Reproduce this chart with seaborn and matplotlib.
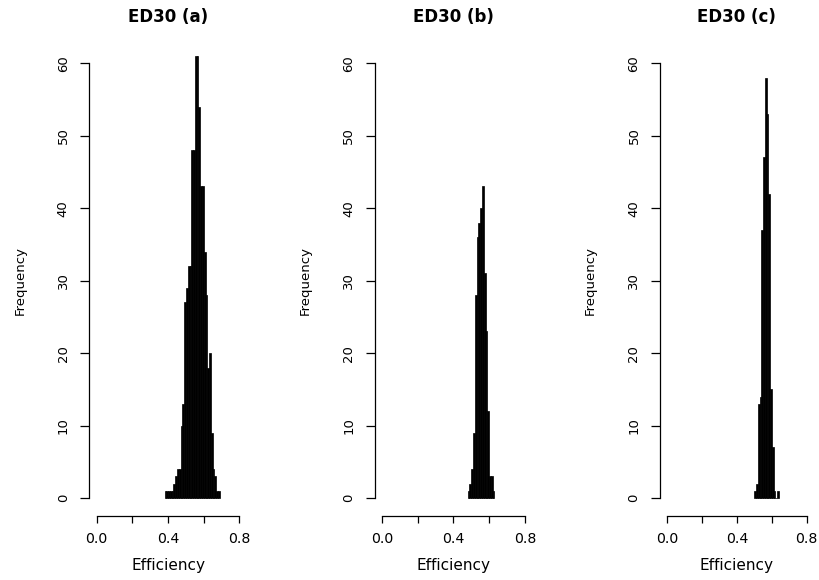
import numpy as np
import pandas as pd
import matplotlib
matplotlib.use("Agg")
import matplotlib.pyplot as plt
import seaborn as sns

# ---------------- data ----------------
bin_width = 0.01

titles = ["ED30 (a)", "ED30 (b)", "ED30 (c)"]

start_a = 0.38
counts_a = [1, 1, 1, 1, 1, 2, 3, 4, 4, 10, 13, 27, 29, 32, 32, 48, 48,
            61, 61, 54, 43, 43, 34, 28, 18, 20, 9, 4, 3, 1, 1]

start_b = 0.48
counts_b = [1, 2, 4, 9, 28, 36, 38, 40, 43, 31, 23, 12, 3, 3, 1]

start_c = 0.50
counts_c = [1, 2, 13, 14, 37, 47, 58, 53, 42, 15, 7, 1, 0, 1]

x_ticks = [0.0, 0.2, 0.4, 0.6, 0.8]
x_tick_labels = ["0.0", "", "0.4", "", "0.8"]
y_ticks = [0, 10, 20, 30, 40, 50, 60]
x_label = "Efficiency"
y_label = "Frequency"

# ---------------- style ----------------
sns.set_style("white")
plt.rcParams["font.family"] = ["DejaVu Sans"]

W, H = 820, 580
fig = plt.figure(figsize=(W / 100, H / 100), dpi=100)

panel_left_px = [89.3, 374.6, 659.9]
panel_w_px = [157.6, 157.6, 154.0]
ax_top_px, ax_bot_px = 45.3, 516.0

series = [(start_a, counts_a), (start_b, counts_b), (start_c, counts_c)]

for i, (start, counts) in enumerate(series):
    left = panel_left_px[i] / W
    bottom = (H - ax_bot_px) / H
    height = (ax_bot_px - ax_top_px) / H
    ax = fig.add_axes([left, bottom, panel_w_px[i] / W, height])

    n = len(counts)
    edges = [round(start + bin_width * k, 4) for k in range(n + 1)]
    centers = [(edges[k] + edges[k + 1]) / 2 for k in range(n)]
    df = pd.DataFrame({"eff": centers, "freq": counts})
    sns.histplot(data=df, x="eff", weights="freq", bins=edges,
                 color="black", edgecolor="black", linewidth=0.5,
                 alpha=1, ax=ax)

    ax.set_xlim(-0.0416, 0.8416)
    ax.set_ylim(-2.48, 62.48)

    for s in ["top", "right"]:
        ax.spines[s].set_visible(False)
    ax.spines["left"].set_bounds(0, 60)
    ax.spines["bottom"].set_bounds(0, 0.8)
    for s in ["left", "bottom"]:
        ax.spines[s].set_color("black")
        ax.spines[s].set_linewidth(0.9)

    ax.set_xticks(x_ticks)
    ax.set_xticklabels(x_tick_labels)
    ax.set_yticks(y_ticks)
    ax.set_yticklabels([str(v) for v in y_ticks], rotation=90, va="center")

    ax.tick_params(axis="x", direction="out", length=5, width=0.9,
                   color="black", pad=6.5, labelsize=10.2, labelcolor="black",
                   bottom=True)
    ax.tick_params(axis="y", direction="out", length=6.5, width=0.9,
                   color="black", pad=7.5, labelsize=9.5, labelcolor="black",
                   left=True)

    ax.set_xlabel(x_label, fontsize=11, labelpad=9, color="black")
    ax.set_ylabel(y_label, fontsize=9.5, labelpad=22, color="black")
    ax.set_title(titles[i], fontsize=12, fontweight="bold", pad=17,
                 color="black")
    ax.grid(False)

fig.savefig("out.png", dpi=100, facecolor="white")
